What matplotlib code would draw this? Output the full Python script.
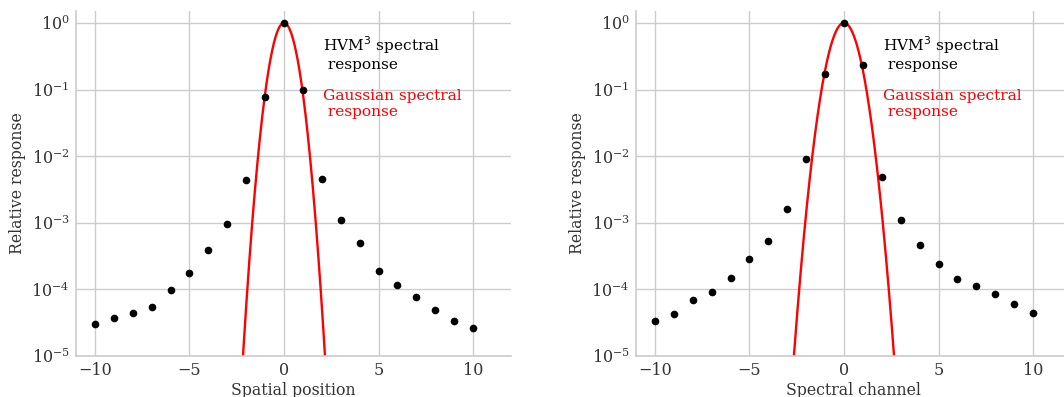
import numpy as np
import matplotlib
matplotlib.use("Agg")
import matplotlib.pyplot as plt

# ---- data ----
x_pos = [-10, -9, -8, -7, -6, -5, -4, -3, -2, -1, 0, 1, 2, 3, 4, 5, 6, 7, 8, 9, 10]
spatial_resp = [3.0e-5, 3.7e-5, 4.5e-5, 5.4e-5, 9.8e-5, 1.78e-4, 3.9e-4, 9.6e-4, 4.4e-3, 7.6e-2,
                1.0, 9.9e-2, 4.5e-3, 1.09e-3, 4.9e-4, 1.91e-4, 1.15e-4, 7.8e-5, 5.0e-5, 3.4e-5, 2.6e-5]
spectral_resp = [3.4e-5, 4.3e-5, 6.9e-5, 9.2e-5, 1.48e-4, 2.82e-4, 5.4e-4, 1.63e-3, 9.1e-3, 1.69e-1,
                 1.0, 2.31e-1, 4.9e-3, 1.09e-3, 4.7e-4, 2.44e-4, 1.43e-4, 1.12e-4, 8.6e-5, 6.0e-5, 4.5e-5]
gauss_sigma_spatial = 0.452
gauss_sigma_spectral = 0.552
xlabels = ["Spatial position", "Spectral channel"]

plt.rcParams['font.family'] = ['DejaVu Serif']

fig = plt.figure(figsize=(10.64, 3.97), dpi=100)
positions = [[0.0714, 0.103, 0.4088, 0.869], [0.5977, 0.103, 0.4088, 0.869]]
datasets = [(spatial_resp, gauss_sigma_spatial), (spectral_resp, gauss_sigma_spectral)]

xx = np.linspace(-11, 12, 2000)
for pos, (resp, sig), xl in zip(positions, datasets, xlabels):
    ax = fig.add_axes(pos)
    g = np.exp(-xx**2 / (2 * sig**2))
    ax.plot(xx, g, color='red', lw=1.7, zorder=2)
    ax.plot(x_pos, resp, 'o', color='black', ms=4.5, zorder=3)
    ax.set_yscale('log')
    ax.set_ylim(1e-5, 1.5)
    ax.set_xlim(-11, 12)
    ax.set_xticks([-10, -5, 0, 5, 10])
    ax.set_yticks([1e-5, 1e-4, 1e-3, 1e-2, 1e-1, 1e0])
    ax.minorticks_off()
    ax.grid(True, color='#cccccc', lw=1.0, zorder=0)
    ax.set_axisbelow(True)
    for s in ['top', 'right']:
        ax.spines[s].set_visible(False)
    for s in ['left', 'bottom']:
        ax.spines[s].set_color('#cccccc')
        ax.spines[s].set_linewidth(1.2)
    ax.tick_params(length=0, labelsize=11.5, colors='#333333', pad=4.5)
    ax.set_xlabel(xl, fontsize=11.3, color='#333333', labelpad=2)
    ax.set_ylabel('Relative response', fontsize=11.3, color='#333333')
    ax.text(2.05, 0.202, 'HVM$^3$ spectral\n response', fontsize=11.1, color='black',
            va='baseline', ha='left', linespacing=1.2)
    ax.text(2.05, 0.0402, 'Gaussian spectral\n response', fontsize=11.1, color='red',
            va='baseline', ha='left', linespacing=1.2)

fig.savefig('out.png', dpi=100)
